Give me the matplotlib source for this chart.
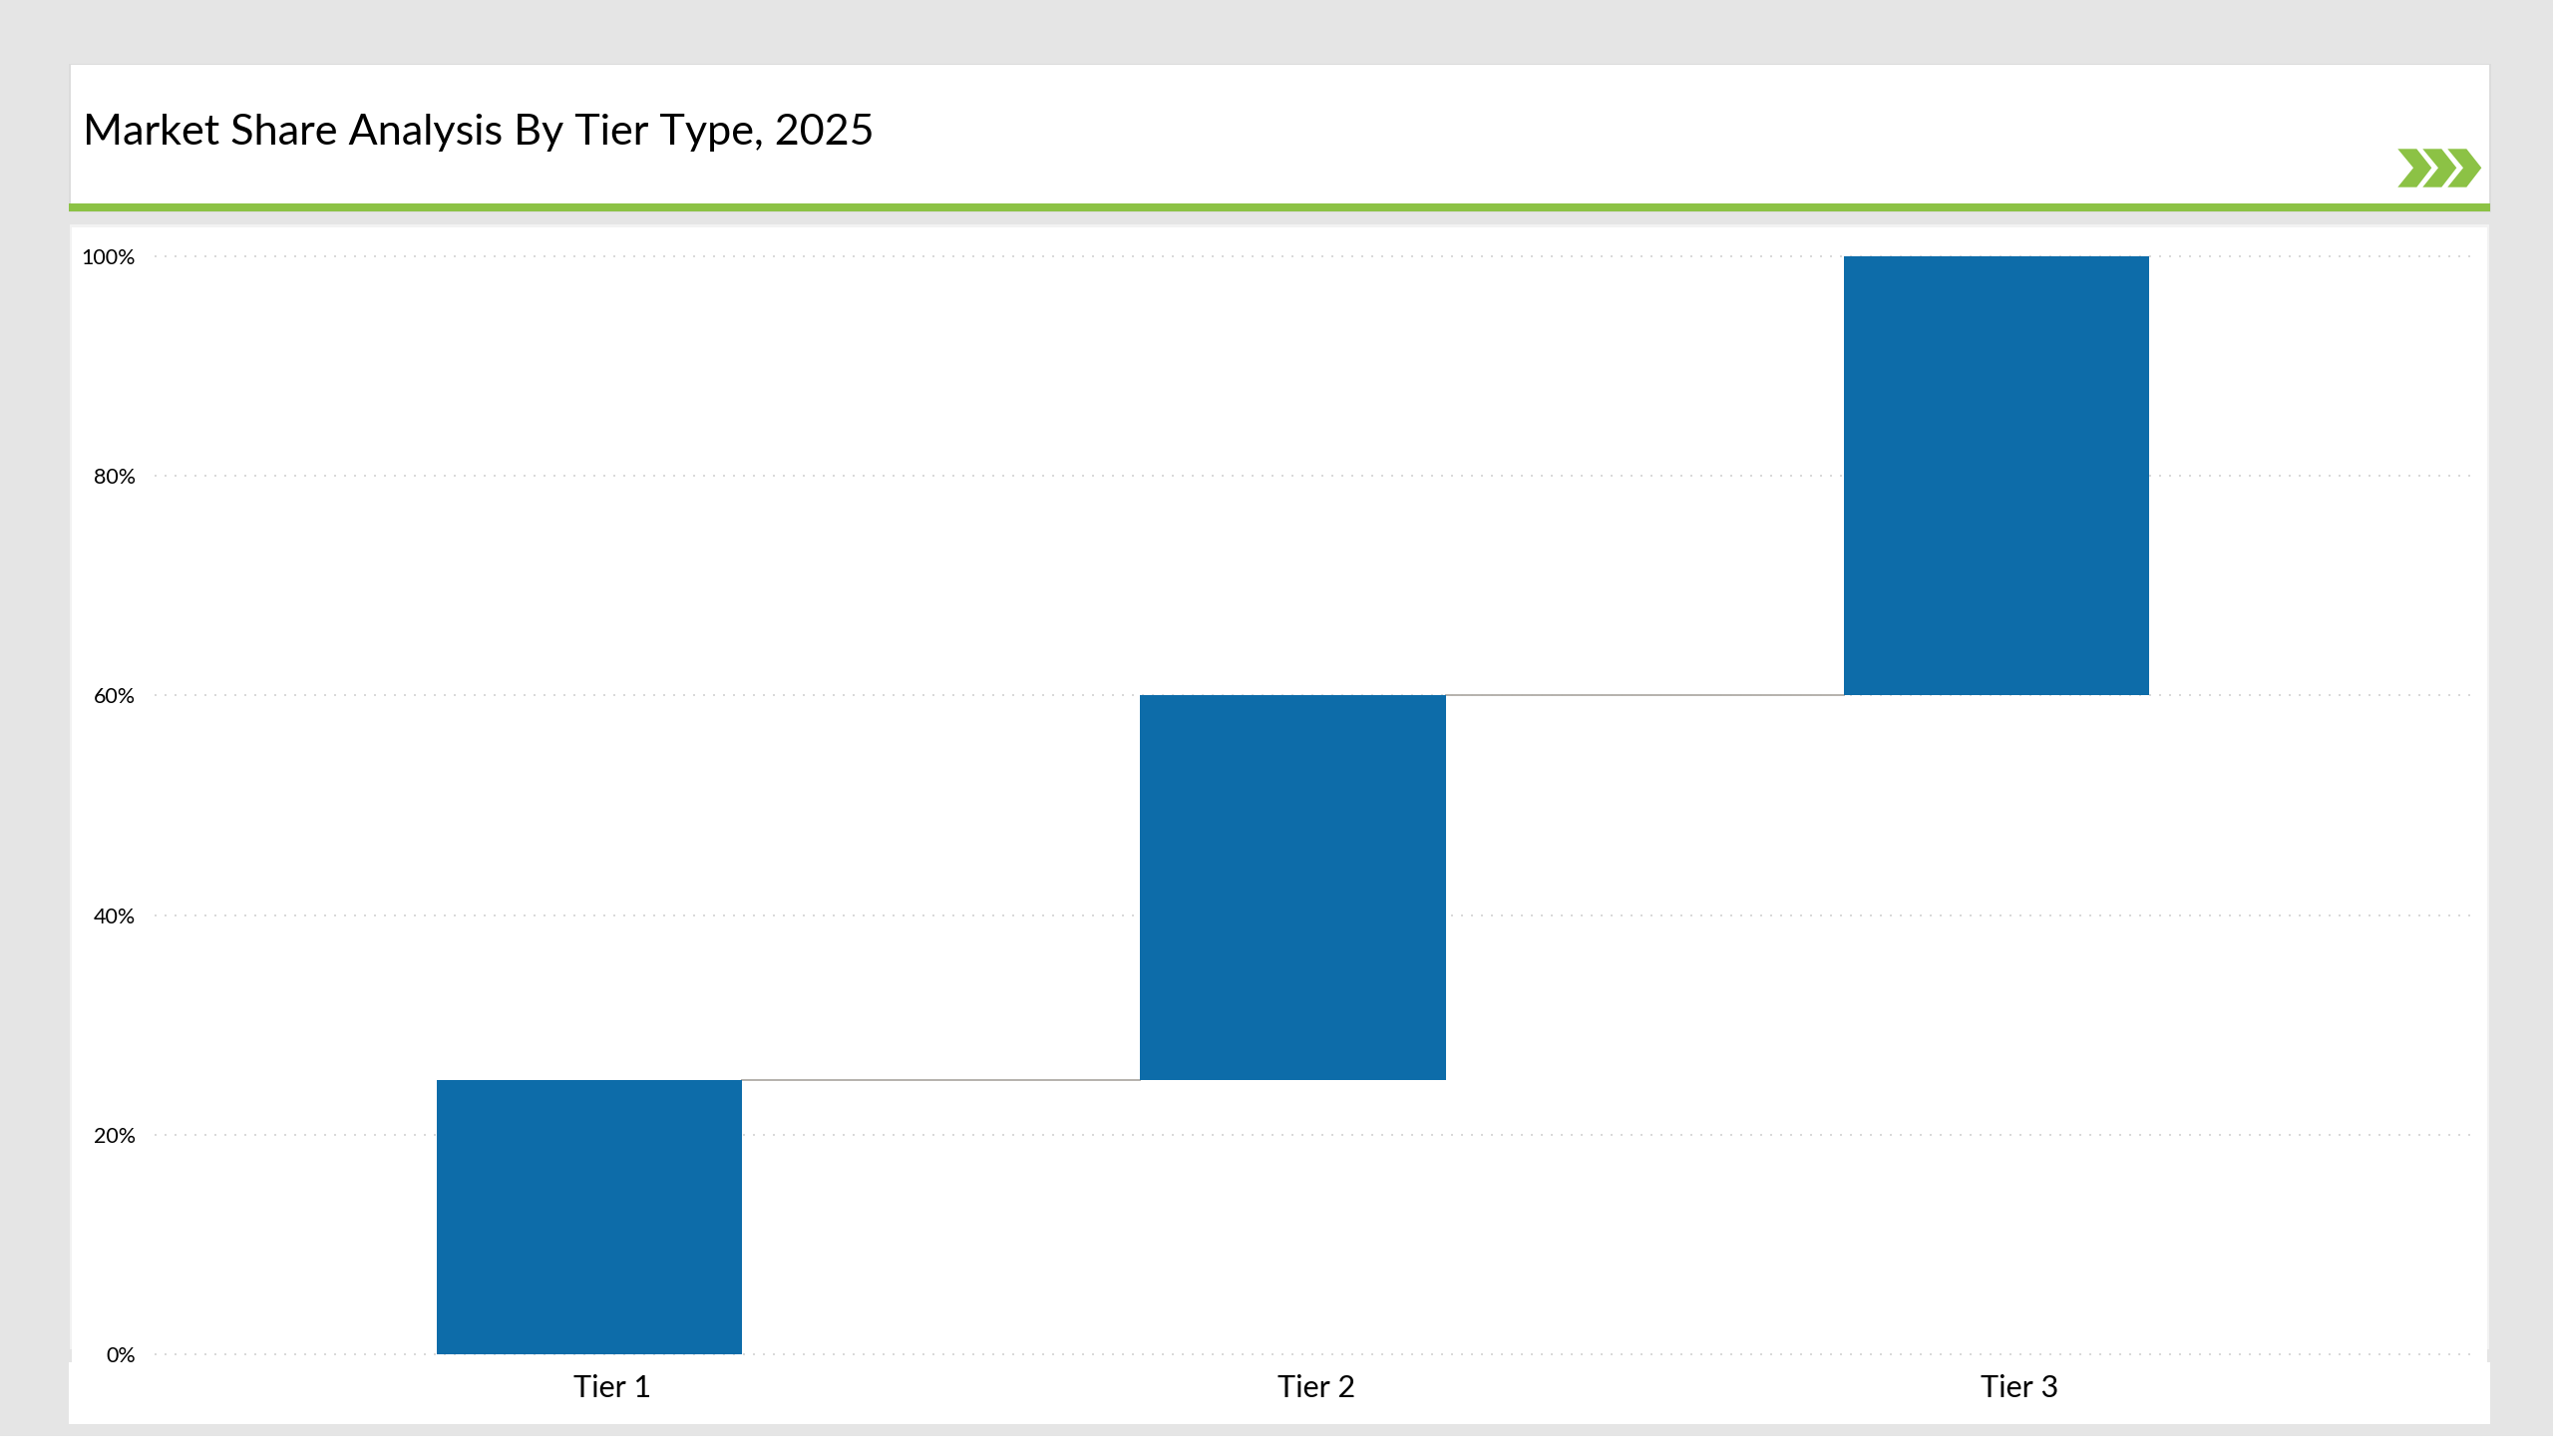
"""Market share by tier, waterfall style (bars stacked on a hidden base)."""

import matplotlib
matplotlib.use("Agg")
import matplotlib.pyplot as plt
from matplotlib.patches import Polygon, Rectangle
import numpy as np

W, H = 2560, 1460
BG = "#e5e5e5"
GREEN = "#8cc245"
BLUE = "#0d6ca9"

title = "Market Share Analysis By Tier Type, 2025"
tiers = ["Tier 1", "Tier 2", "Tier 3"]
shares = [25, 35, 40]
y_ticks = [0, 20, 40, 60, 80, 100]

plt.rcParams["font.family"] = ["Lato", "DejaVu Sans"]

fig = plt.figure(figsize=(W / 100, H / 100), dpi=100, facecolor="white")

# page furniture, drawn in pixel coordinates
page = fig.add_axes([0, 0, 1, 1])
page.set_xlim(0, W)
page.set_ylim(H, 0)
page.axis("off")


def box(x0, y0, x1, y1, color):
    page.add_patch(Rectangle((x0, y0), x1 - x0, y1 - y0, fc=color, ec="none"))


box(0, 0, W, 1440, BG)
box(69, 64, 2498, 213, "#dcdcdc")  # header card
box(71, 65, 2496, 204, "white")
box(69, 204, 2497, 212, GREEN)
box(70, 225, 2496, 1353, "#f2f2f2")  # body card
box(72, 228, 2494, 1353, "white")
box(70, 1353, 2496, 1366, "white")
box(69, 1353, 72, 1366, BG)
box(2494, 1353, 2498, 1366, BG)
box(69, 1366, 2497, 1428, "white")

for off in [0, 25, 50]:
    px = np.array([2404.3, 2423.3, 2438.3, 2423.3, 2404.3, 2420.0]) + off
    py = [149.3, 149.3, 168.3, 187.7, 187.7, 168.3]
    page.add_patch(Polygon(np.column_stack([px, py]), fc=GREEN, ec="none"))

page.text(83, 133, title, fontsize=31.1, color="black", ha="left", va="center")

# chart
left, right = 155, 2477
top, bottom = 249.9, 1365.1
ax = fig.add_axes([left / W, 1 - bottom / H, (right - left) / W, (bottom - top) / H])
ax.patch.set_alpha(0)

x = np.arange(len(tiers))
tops = np.cumsum(shares)
bases = tops - np.array(shares)
bar_w = 0.434

ax.bar(x, shares, bottom=bases, width=bar_w, color=BLUE, zorder=3)
for i in range(len(tiers) - 1):
    ax.plot([x[i] + bar_w / 2, x[i + 1] - bar_w / 2], [tops[i], tops[i]],
            color="#b5b1ac", lw=1.4, zorder=2)

ax.set_xlim(-0.618, 2.673)
ax.set_ylim(-0.6, 100.6)
ax.set_yticks(y_ticks)
ax.set_yticklabels([f"{v}%" for v in y_ticks], fontsize=15.5, color="black")
ax.set_xticks(x + 0.033)
ax.set_xticklabels(tiers, fontsize=22, color="black")
ax.tick_params(axis="both", length=0)
ax.tick_params(axis="y", pad=13.7)
ax.tick_params(axis="x", pad=9)
ax.grid(axis="y", color="#d9d9d9", lw=1.44, linestyle=(0, (1, 4)), zorder=1)
ax.set_axisbelow(True)
for side in ax.spines.values():
    side.set_visible(False)

fig.savefig("out.png", dpi=100)
